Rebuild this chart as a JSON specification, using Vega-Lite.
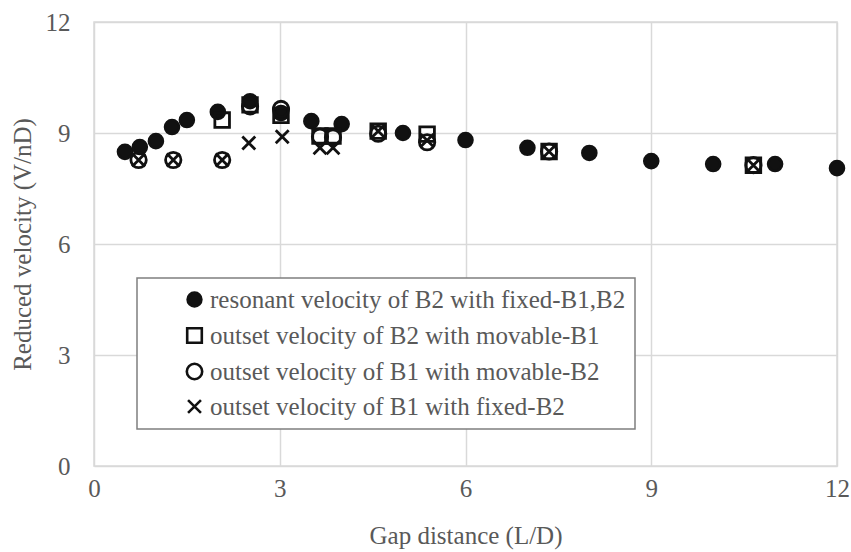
{
  "$schema": "https://vega.github.io/schema/vega-lite/v6.json",
  "width": 743,
  "height": 444,
  "autosize": {"type": "none"},
  "padding": {"left": 94, "top": 22, "right": 14, "bottom": 86},
  "background": "white",
  "config": {
    "view": {"stroke": "#d9d9d9", "strokeWidth": 1.5},
    "font": "Liberation Serif",
    "axis": {"gridColor": "#d9d9d9", "gridWidth": 1.5, "domain": false, "ticks": false, "labelFlush": false, "labelFont": "Liberation Serif", "titleFont": "Liberation Serif", "labelFontSize": 25, "titleFontSize": 25, "labelColor": "#595959", "titleColor": "#595959", "titleFontWeight": "normal"},
    "legend": {"fillColor": "white", "strokeColor": "#7f7f7f", "strokeWidth": 1.5, "padding": 9, "symbolOffset": 36, "labelFont": "Liberation Serif", "labelFontSize": 25, "labelColor": "#595959", "rowPadding": 9, "labelOffset": 3, "symbolStrokeWidth": 2.6, "labelLimit": 600}
  },
  "data": {
    "values": [
      {"x": 0.5, "y": 8.49, "s": "resonant velocity of B2 with fixed-B1,B2"},
      {"x": 0.74, "y": 8.62, "s": "resonant velocity of B2 with fixed-B1,B2"},
      {"x": 1.0, "y": 8.78, "s": "resonant velocity of B2 with fixed-B1,B2"},
      {"x": 1.26, "y": 9.16, "s": "resonant velocity of B2 with fixed-B1,B2"},
      {"x": 1.5, "y": 9.35, "s": "resonant velocity of B2 with fixed-B1,B2"},
      {"x": 2.0, "y": 9.57, "s": "resonant velocity of B2 with fixed-B1,B2"},
      {"x": 2.52, "y": 9.86, "s": "resonant velocity of B2 with fixed-B1,B2"},
      {"x": 3.02, "y": 9.54, "s": "resonant velocity of B2 with fixed-B1,B2"},
      {"x": 3.51, "y": 9.32, "s": "resonant velocity of B2 with fixed-B1,B2"},
      {"x": 4.0, "y": 9.24, "s": "resonant velocity of B2 with fixed-B1,B2"},
      {"x": 4.99, "y": 9.0, "s": "resonant velocity of B2 with fixed-B1,B2"},
      {"x": 6.0, "y": 8.81, "s": "resonant velocity of B2 with fixed-B1,B2"},
      {"x": 7.0, "y": 8.6, "s": "resonant velocity of B2 with fixed-B1,B2"},
      {"x": 8.0, "y": 8.46, "s": "resonant velocity of B2 with fixed-B1,B2"},
      {"x": 9.0, "y": 8.24, "s": "resonant velocity of B2 with fixed-B1,B2"},
      {"x": 10.0, "y": 8.16, "s": "resonant velocity of B2 with fixed-B1,B2"},
      {"x": 11.0, "y": 8.16, "s": "resonant velocity of B2 with fixed-B1,B2"},
      {"x": 12.0, "y": 8.05, "s": "resonant velocity of B2 with fixed-B1,B2"},
      {"x": 2.07, "y": 9.35, "s": "outset velocity of B2 with movable-B1"},
      {"x": 2.52, "y": 9.76, "s": "outset velocity of B2 with movable-B1"},
      {"x": 3.02, "y": 9.48, "s": "outset velocity of B2 with movable-B1"},
      {"x": 3.65, "y": 8.92, "s": "outset velocity of B2 with movable-B1"},
      {"x": 3.86, "y": 8.92, "s": "outset velocity of B2 with movable-B1"},
      {"x": 4.59, "y": 9.05, "s": "outset velocity of B2 with movable-B1"},
      {"x": 5.38, "y": 8.97, "s": "outset velocity of B2 with movable-B1"},
      {"x": 7.35, "y": 8.5, "s": "outset velocity of B2 with movable-B1"},
      {"x": 10.65, "y": 8.13, "s": "outset velocity of B2 with movable-B1"},
      {"x": 0.72, "y": 8.27, "s": "outset velocity of B1 with movable-B2"},
      {"x": 1.28, "y": 8.27, "s": "outset velocity of B1 with movable-B2"},
      {"x": 2.07, "y": 8.27, "s": "outset velocity of B1 with movable-B2"},
      {"x": 2.52, "y": 9.72, "s": "outset velocity of B1 with movable-B2"},
      {"x": 3.02, "y": 9.65, "s": "outset velocity of B1 with movable-B2"},
      {"x": 3.65, "y": 8.9, "s": "outset velocity of B1 with movable-B2"},
      {"x": 3.86, "y": 8.88, "s": "outset velocity of B1 with movable-B2"},
      {"x": 4.59, "y": 8.98, "s": "outset velocity of B1 with movable-B2"},
      {"x": 5.38, "y": 8.75, "s": "outset velocity of B1 with movable-B2"},
      {"x": 7.35, "y": 8.5, "s": "outset velocity of B1 with movable-B2"},
      {"x": 10.65, "y": 8.13, "s": "outset velocity of B1 with movable-B2"},
      {"x": 0.72, "y": 8.27, "s": "outset velocity of B1 with fixed-B2"},
      {"x": 1.28, "y": 8.27, "s": "outset velocity of B1 with fixed-B2"},
      {"x": 2.07, "y": 8.27, "s": "outset velocity of B1 with fixed-B2"},
      {"x": 2.5, "y": 8.73, "s": "outset velocity of B1 with fixed-B2"},
      {"x": 3.04, "y": 8.9, "s": "outset velocity of B1 with fixed-B2"},
      {"x": 3.65, "y": 8.6, "s": "outset velocity of B1 with fixed-B2"},
      {"x": 3.86, "y": 8.6, "s": "outset velocity of B1 with fixed-B2"},
      {"x": 4.59, "y": 9.05, "s": "outset velocity of B1 with fixed-B2"},
      {"x": 5.38, "y": 8.8, "s": "outset velocity of B1 with fixed-B2"},
      {"x": 7.35, "y": 8.5, "s": "outset velocity of B1 with fixed-B2"},
      {"x": 10.65, "y": 8.13, "s": "outset velocity of B1 with fixed-B2"}
    ]
  },
  "mark": {"type": "point", "strokeWidth": 2.8, "opacity": 1},
  "encoding": {
    "x": {"field": "x", "type": "quantitative", "title": "Gap distance (L/D)", "scale": {"domain": [0, 12], "nice": false}, "axis": {"values": [0, 3, 6, 9, 12], "labelPadding": 10, "titlePadding": 22}},
    "y": {"field": "y", "type": "quantitative", "title": "Reduced velocity (V/nD)", "scale": {"domain": [0, 12], "nice": false}, "axis": {"values": [0, 3, 6, 9, 12], "labelPadding": 24, "titlePadding": 10}},
    "shape": {"field": "s", "type": "nominal",
      "legend": {"title": null, "orient": "none", "legendX": 43, "legendY": 256},
      "scale": {"domain": ["resonant velocity of B2 with fixed-B1,B2", "outset velocity of B2 with movable-B1", "outset velocity of B1 with movable-B2", "outset velocity of B1 with fixed-B2"],
        "range": ["circle", "square", "circle", "M-0.8,-0.8L0.8,0.8M0.8,-0.8L-0.8,0.8"]}},
    "fill": {"field": "s", "type": "nominal",
      "legend": {"title": null, "orient": "none", "legendX": 43, "legendY": 256},
      "scale": {"domain": ["resonant velocity of B2 with fixed-B1,B2", "outset velocity of B2 with movable-B1", "outset velocity of B1 with movable-B2", "outset velocity of B1 with fixed-B2"],
        "range": ["#111111", "transparent", "transparent", "transparent"]}},
    "stroke": {"field": "s", "type": "nominal",
      "legend": {"title": null, "orient": "none", "legendX": 43, "legendY": 256},
      "scale": {"domain": ["resonant velocity of B2 with fixed-B1,B2", "outset velocity of B2 with movable-B1", "outset velocity of B1 with movable-B2", "outset velocity of B1 with fixed-B2"],
        "range": ["#111111", "#111111", "#111111", "#111111"]}},
    "size": {"field": "s", "type": "nominal",
      "legend": {"title": null, "orient": "none", "legendX": 43, "legendY": 256},
      "scale": {"domain": ["resonant velocity of B2 with fixed-B1,B2", "outset velocity of B2 with movable-B1", "outset velocity of B1 with movable-B2", "outset velocity of B1 with fixed-B2"],
        "range": [190, 260, 250, 300]}}
  }
}
